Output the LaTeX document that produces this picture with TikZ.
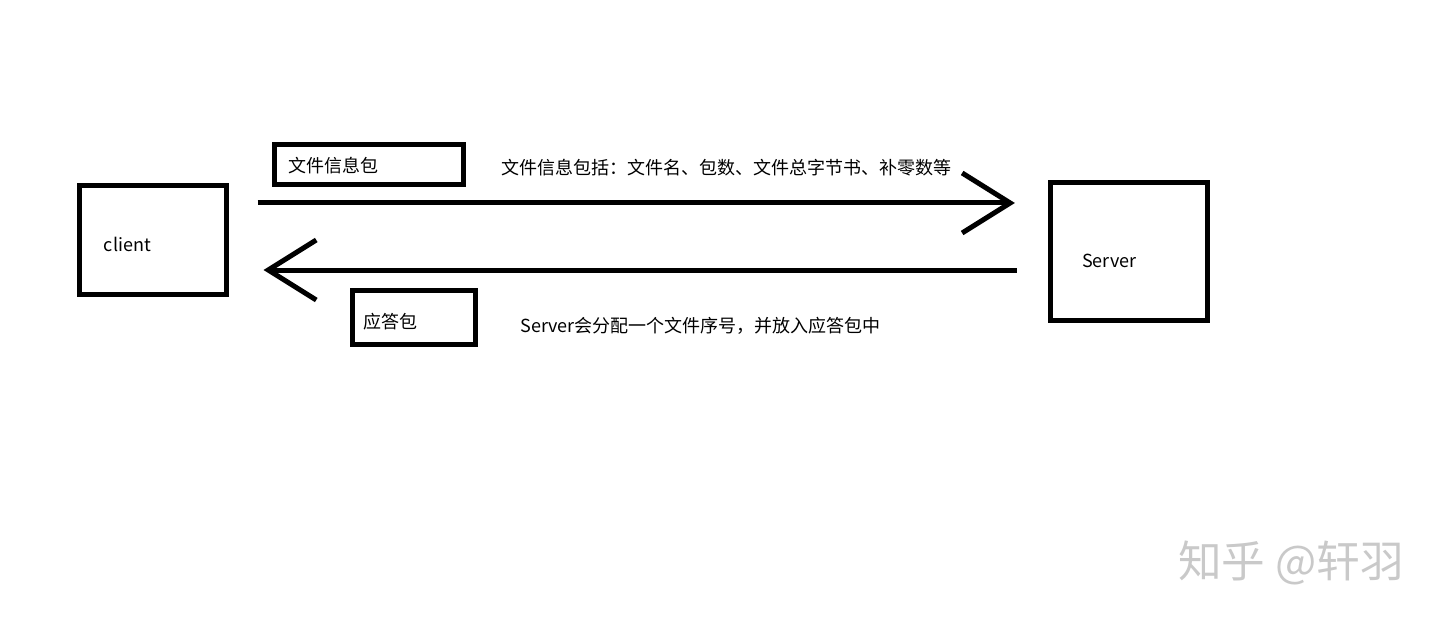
\documentclass[tikz,border=0pt]{standalone}
\usepackage{fontspec}
\setmainfont{Noto Sans CJK SC}
\usetikzlibrary{
arrows.meta,
positioning
}
\definecolor{SketchInk}{HTML}{000000}
\definecolor{MarkGray}{HTML}{C9C9C9}
\tikzset{
sketchbox/.style={draw=SketchInk, line width=0.125cm, align=left, inner ysep=0pt,
  text depth=0pt, font=\fontsize{12.8pt}{15pt}\selectfont},
notetext/.style={inner sep=0pt, anchor=west, text=SketchInk,
  font=\fontsize{12.8pt}{15pt}\selectfont},
msgarrow/.style={-{Straight Barb[length=1.2cm, width=1.5cm]}, line width=0.125cm, draw=SketchInk},
markstyle/.style={inner sep=0pt, anchor=west, text=MarkGray,
  font=\fontsize{31pt}{35pt}\selectfont}
}

\begin{document}
\begin{tikzpicture}[x=0.025cm, y=-0.025cm, node distance=8mm and 8mm]
\useasboundingbox (0,0) rectangle (1440,622);

\node[sketchbox, inner xsep=0.6cm, text width=2.45cm, minimum height=2.7cm, text height=0.59cm] (client) at (153,240) {client};
\node[sketchbox, inner xsep=0.79cm, text width=2.35cm, minimum height=3.425cm, text height=0.815cm] (server) at (1129,251.5) {Server};

\node[sketchbox, inner xsep=0.36cm, text width=4.0cm, minimum height=1.0cm, text height=0.415cm] (infopkt) at (369,164.5) {文件信息包};
\node[sketchbox, inner xsep=0.29cm, text width=2.5cm, minimum height=1.35cm, text height=0.565cm] (ackpkt) at (414,317.5) {应答包};

\node[notetext, right=0.875cm of infopkt, yshift=-0.09cm] (infonote) {文件信息包括：文件名、包数、文件总字节书、补零数等};
\node[notetext, right=1.05cm of ackpkt, yshift=-0.21cm] (acknote) {Server会分配一个文件序号，并放入应答包中};

\coordinate (reqrow) at ([yshift=0.925cm]client.east);
\coordinate (ackrow) at ([yshift=-0.4625cm]server.west);

\draw[msgarrow, shorten <=0.725cm, shorten >=0.825cm] (reqrow) -- (reqrow -| server.west);
\draw[msgarrow, shorten <=0.775cm, shorten >=0.875cm] (ackrow) -- (ackrow -| client.east);

\node[markstyle] (zhihumark) at (1178,563) {知乎 @轩羽};
\end{tikzpicture}
\end{document}
